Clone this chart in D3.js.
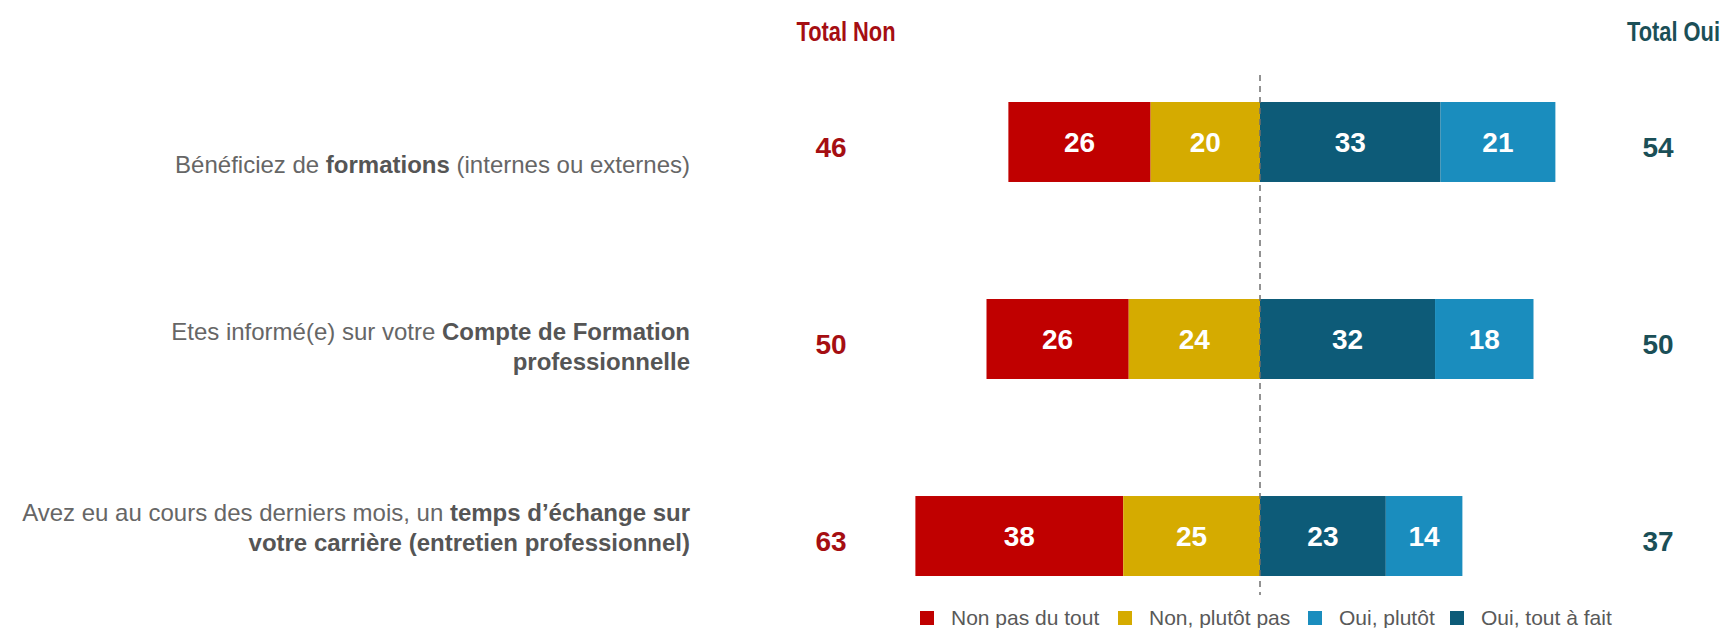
<!DOCTYPE html>
<html>
<head>
<meta charset="utf-8">
<script src="https://cdn.jsdelivr.net/npm/d3@7"></script>
<style>
  body { margin: 0; background: #fff; }
  svg { display: block; }
  text { font-family: "Liberation Sans", Arial, sans-serif; }
</style>
</head>
<body>
<svg class="likert-chart"></svg>
<script>
const questions = ['formations', 'cpf', 'entretien'];
const questionLines = [
  [[['Bénéficiez de ', false], ['formations', true], [' (internes ou externes)', false]]],
  [[['Etes informé(e) sur votre ', false], ['Compte de Formation', true]],
   [['professionnelle', true]]],
  [[['Avez eu au cours des derniers mois, un ', false], ['temps d’échange sur', true]],
   [['votre carrière (entretien professionnel)', true]]],
];
const nonPasDuTout = [26, 26, 38];
const nonPlutotPas = [20, 24, 25];
const ouiToutAFait = [33, 32, 23];
const ouiPlutot = [21, 18, 14];
const totalNon = [46, 50, 63];
const totalOui = [54, 50, 37];
const legendLabels = ['Non pas du tout', 'Non, plutôt pas', 'Oui, plutôt', 'Oui, tout à fait'];

const colours = {
  nonPasDuTout: '#C00000',
  nonPlutotPas: '#D5AB00',
  ouiPlutot: '#1A8DBE',
  ouiToutAFait: '#0D5B78',
};
const legendColours = [colours.nonPasDuTout, colours.nonPlutotPas, colours.ouiPlutot, colours.ouiToutAFait];
const nonColour = '#A50E12';
const ouiColour = '#1B4F57';

const width = 1722;
const height = 628;

const svg = d3.select('.likert-chart')
  .attr('width', width)
  .attr('height', height);

const x = d3.scaleLinear()
  .domain([-100, 100])
  .range([1260 - 547, 1260 + 547]);

const y = d3.scaleBand()
  .domain(questions)
  .range([102, 576])
  .paddingInner(0.594)
  .paddingOuter(0);

// the question texts sit on their own rhythm, a bit tighter than the bars
const yLabel = d3.scalePoint()
  .domain(questions)
  .range([165, 528]);

// segments: negatives go left from 0, positives right
const segments = [];
questions.forEach((q, i) => {
  const a = nonPasDuTout[i];
  const b = nonPlutotPas[i];
  const c = ouiToutAFait[i];
  const d = ouiPlutot[i];
  segments.push({ q, x0: -(a + b), x1: -b, v: a, colour: colours.nonPasDuTout });
  segments.push({ q, x0: -b, x1: 0, v: b, colour: colours.nonPlutotPas });
  segments.push({ q, x0: 0, x1: c, v: c, colour: colours.ouiToutAFait });
  segments.push({ q, x0: c, x1: c + d, v: d, colour: colours.ouiPlutot });
});

svg.selectAll('.bar')
  .data(segments)
  .enter()
  .append('rect')
  .attr('class', 'bar')
  .attr('x', d => x(d.x0))
  .attr('y', d => y(d.q))
  .attr('width', d => x(d.x1) - x(d.x0))
  .attr('height', y.bandwidth())
  .attr('fill', d => d.colour);

svg.selectAll('.bar-label')
  .data(segments)
  .enter()
  .append('text')
  .attr('class', 'bar-label')
  .attr('x', d => (x(d.x0) + x(d.x1)) / 2)
  .attr('y', d => y(d.q) + y.bandwidth() / 2)
  .attr('dy', '0.36em')
  .attr('text-anchor', 'middle')
  .style('font-weight', 'bold')
  .style('font-size', '28px')
  .style('fill', '#fff')
  .text(d => d.v);

// zero line
svg.append('line')
  .attr('x1', x(0))
  .attr('x2', x(0))
  .attr('y1', 75)
  .attr('y2', 595)
  .attr('stroke', '#6f6f6f')
  .attr('stroke-width', 1.5)
  .attr('stroke-dasharray', '6,5');

// headers (condensed look)
svg.append('text')
  .attr('transform', 'translate(846, 41) scale(0.78, 1)')
  .attr('text-anchor', 'middle')
  .style('font-weight', 'bold')
  .style('font-size', '28px')
  .style('fill', nonColour)
  .text('Total Non');

svg.append('text')
  .attr('transform', 'translate(1720, 41) scale(0.78, 1)')
  .attr('text-anchor', 'end')
  .style('font-weight', 'bold')
  .style('font-size', '28px')
  .style('fill', ouiColour)
  .text('Total Oui');

svg.selectAll('.total-non')
  .data(totalNon)
  .enter()
  .append('text')
  .attr('class', 'total-non')
  .attr('x', 831)
  .attr('y', (d, i) => y(questions[i]) + y.bandwidth() / 2 + 5)
  .attr('dy', '0.36em')
  .attr('text-anchor', 'middle')
  .style('font-weight', 'bold')
  .style('font-size', '28px')
  .style('fill', nonColour)
  .text(d => d);

svg.selectAll('.total-oui')
  .data(totalOui)
  .enter()
  .append('text')
  .attr('class', 'total-oui')
  .attr('x', 1658)
  .attr('y', (d, i) => y(questions[i]) + y.bandwidth() / 2 + 5)
  .attr('dy', '0.36em')
  .attr('text-anchor', 'middle')
  .style('font-weight', 'bold')
  .style('font-size', '28px')
  .style('fill', ouiColour)
  .text(d => d);

// question labels, right aligned, bold words a touch darker
const lineHeight = 30;
questionLines.forEach((lines, i) => {
  const top = yLabel(questions[i]) - ((lines.length - 1) * lineHeight) / 2;
  lines.forEach((parts, j) => {
    const t = svg.append('text')
      .attr('class', 'question')
      .attr('x', 690)
      .attr('y', top + j * lineHeight)
      .attr('dy', '0.35em')
      .attr('text-anchor', 'end')
      .style('font-size', '24px')
      .attr('xml:space', 'preserve');
    parts.forEach(([str, bold]) => {
      t.append('tspan')
        .style('font-weight', bold ? 'bold' : 'normal')
        .style('fill', bold ? '#555' : '#666')
        .text(str);
    });
  });
});

// legend
const legend = svg.append('g')
  .attr('class', 'legend')
  .attr('transform', 'translate(920, 618)');

const legendX = [0, 198, 388, 530];
const item = legend.selectAll('.legend-item')
  .data(legendLabels)
  .enter()
  .append('g')
  .attr('class', 'legend-item')
  .attr('transform', (d, i) => `translate(${legendX[i]}, 0)`);

item.append('rect')
  .attr('x', 0)
  .attr('y', -7)
  .attr('width', 14)
  .attr('height', 14)
  .attr('fill', (d, i) => legendColours[i]);

item.append('text')
  .attr('x', 31)
  .attr('y', 0)
  .attr('dy', '0.35em')
  .style('font-size', '21px')
  .style('fill', '#595959')
  .text(d => d);
</script>
</body>
</html>
